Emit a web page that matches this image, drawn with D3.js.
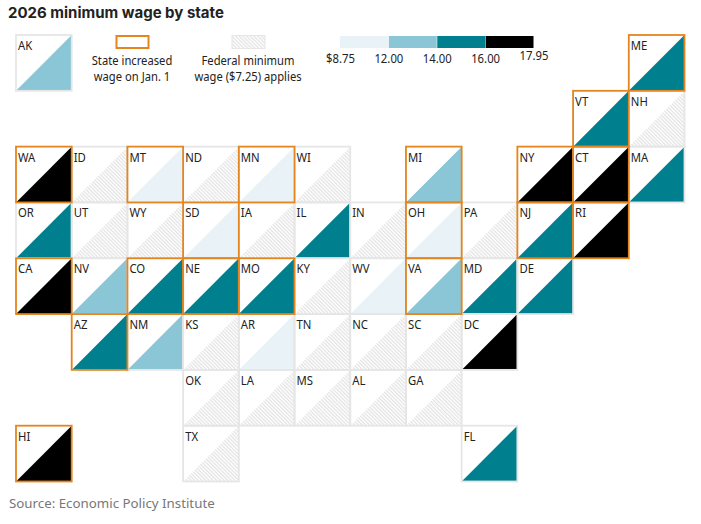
<!DOCTYPE html>
<html>
<head>
<meta charset="utf-8">
<script src="https://cdn.jsdelivr.net/npm/d3@7"></script>
<style>
html, body { margin: 0; padding: 0; background: #fff; }
text { font-family: "Noto Sans", sans-serif; fill: #222; }
</style>
</head>
<body>
<div id="chart"></div>
<script>
// tile grid, one string per row, "." is an empty tile
var tileRows = [
    "AK . . . . . . . . . . ME",
    ". . . . . . . . . . VT NH",
    "WA ID MT ND MN WI . MI . NY CT MA",
    "OR UT WY SD IA IL IN OH PA NJ RI .",
    "CA NV CO NE MO KY WV VA MD DE . .",
    ". AZ NM KS AR TN NC SC DC . . .",
    ". . . OK LA MS AL GA . . . .",
    "HI . . TX . . . . FL . . ."
];

// 2026 wage read off the colour bins, states not listed use the federal one
var federalWage = 7.25;
var stateWages = {
    AK: 13.00, ME: 15.10, VT: 14.42, WA: 17.13, MT: 10.85, MN: 11.41, MI: 13.73,
    NY: 17.00, CT: 16.94, MA: 15.00, OR: 15.05, SD: 11.85, IL: 15.00, OH: 11.00,
    NJ: 15.92, RI: 16.00, CA: 16.90, NV: 12.00, CO: 15.16, NE: 15.00, MO: 15.00,
    WV: 8.75, VA: 12.77, MD: 15.00, DE: 15.00, AZ: 15.15, NM: 12.00, AR: 11.00,
    DC: 17.95, HI: 16.00, FL: 14.00
};
var increasedStates = ["ME", "VT", "WA", "MT", "MN", "MI", "NY", "CT", "OH", "NJ", "RI",
    "CA", "CO", "NE", "MO", "VA", "AZ", "SD", "HI"];

var legendBreaks = [12, 14, 16];
var legendColors = ["#e8f2f7", "#8ac6d6", "#00808f", "#000000"];
var legendLabels = ["$8.75", "12.00", "14.00", "16.00", "17.95"];

var width = 701, height = 524;
var orange = "#e5851f", tileGrey = "#e6e6e6";
var narrow = " scale(0.84,1)"; // no condensed font here, so squeeze the small labels

var svg = d3.select("#chart").append("svg")
    .attr("width", width)
    .attr("height", height)
    .style("display", "block");

// hatch for the federal minimum, fine enough to read as a grey tint
var pattern = svg.append("defs").append("pattern")
    .attr("id", "hatch")
    .attr("width", 2.6)
    .attr("height", 2.6)
    .attr("patternUnits", "userSpaceOnUse")
    .attr("patternTransform", "rotate(-45)");
pattern.append("rect").attr("width", 2.6).attr("height", 2.6).attr("fill", "#fff");
pattern.append("rect").attr("width", 1.2).attr("height", 2.6).attr("fill", "#e2e2e2");

var tiles = [];
tileRows.forEach(function (row, r) {
    row.split(" ").forEach(function (state, c) {
        if (state !== ".") {
            var wage = stateWages[state] === undefined ? federalWage : stateWages[state];
            tiles.push({ state: state, row: r, col: c, wage: wage, increased: increasedStates.indexOf(state) > -1 });
        }
    });
});

var x = d3.scaleBand().domain(d3.range(12)).range([16, 684.5]);
var y = d3.scaleBand().domain(d3.range(8)).range([35, 481.5]);
var color = d3.scaleThreshold().domain(legendBreaks).range(legendColors);

function fillFor(d) {
    return d.wage === federalWage ? "url(#hatch)" : color(d.wage);
}

// grey tiles first, orange ones on top so their outline is not covered
var cells = svg.append("g").selectAll("g")
    .data(tiles.slice().sort(function (a, b) { return a.increased - b.increased; }))
    .enter()
    .append("g")
    .attr("transform", function (d) { return "translate(" + x(d.col) + "," + y(d.row) + ")"; });

cells.append("path")
    .attr("d", "M" + x.bandwidth() + ",0V" + y.bandwidth() + "H0Z")
    .attr("fill", fillFor);

cells.append("rect")
    .attr("width", x.bandwidth())
    .attr("height", y.bandwidth())
    .attr("fill", "none")
    .attr("stroke", function (d) { return d.increased ? orange : tileGrey; })
    .attr("stroke-width", 1.8);

cells.append("text")
    .attr("transform", "translate(2,15)" + narrow)
    .attr("font-size", 13.5)
    .text(function (d) { return d.state; });

// title and source
svg.append("text")
    .attr("x", 8)
    .attr("y", 18)
    .attr("font-size", 15)
    .attr("font-weight", 700)
    .style("font-family", "Inter, sans-serif")
    .text("2026 minimum wage by state");

svg.append("text")
    .attr("x", 9)
    .attr("y", 508)
    .attr("font-size", 13.3)
    .style("fill", "#777")
    .text("Source: Economic Policy Institute");

// legend keys
var keys = svg.append("g");
keys.append("rect")
    .attr("x", 116.5).attr("y", 36)
    .attr("width", 32).attr("height", 12)
    .attr("fill", "#fff").attr("stroke", orange).attr("stroke-width", 2);
keys.append("rect")
    .attr("x", 232).attr("y", 35.5)
    .attr("width", 33).attr("height", 13)
    .attr("fill", "url(#hatch)")
    .attr("stroke", tileGrey);

[["State increased", "wage on Jan. 1", 132], ["Federal minimum", "wage ($7.25) applies", 248]].forEach(function (k) {
    [k[0], k[1]].forEach(function (line, i) {
        keys.append("text")
            .attr("transform", "translate(" + k[2] + "," + (64.7 + i * 16.7) + ") scale(0.92,1)")
            .attr("text-anchor", "middle")
            .attr("font-size", 12.2)
            .text(line);
    });
});

// colour bar, one block per bin between the labels
var legendX = d3.scalePoint().domain(legendLabels).range([340, 533.5]);
svg.append("g").selectAll("rect")
    .data(legendColors)
    .enter()
    .append("rect")
    .attr("x", function (d, i) { return legendX(legendLabels[i]) + (i ? 0.5 : 0); })
    .attr("y", 36)
    .attr("width", function (d, i) { return legendX(legendLabels[i + 1]) - legendX(legendLabels[i]) - (i ? 0.5 : 0); })
    .attr("height", 12)
    .attr("fill", function (d) { return d; });

var legendAxis = svg.append("g")
    .attr("transform", "translate(0,48)")
    .call(d3.axisBottom(legendX).tickSize(0).tickPadding(5));
legendAxis.select(".domain").remove();
legendAxis.selectAll("text")
    .attr("font-size", 13.5)
    .attr("transform", narrow)
    .style("font-family", '"Noto Sans", sans-serif');
// the last label sits a little higher in the original
legendAxis.selectAll("text").filter(function (d) { return d === "17.95"; })
    .attr("dy", "0.55em");
</script>
</body>
</html>
